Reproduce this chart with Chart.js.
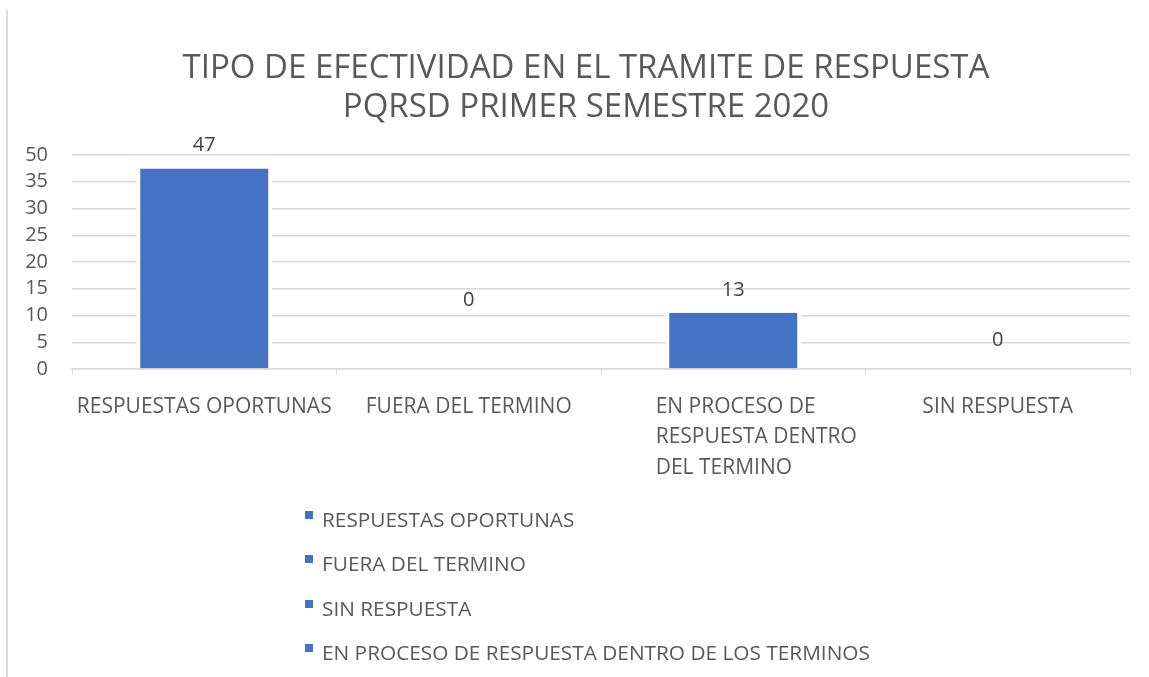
<!DOCTYPE html>
<html><head><meta charset="utf-8">
<script src="https://cdn.jsdelivr.net/npm/chart.js@4.4.1/dist/chart.umd.min.js"></script>
<style>
html,body{margin:0;padding:0;background:#fff;}
#wrap{position:relative;width:1149px;height:677px;overflow:hidden;background:#fff;}
#frame{position:absolute;left:6px;top:10px;width:2px;height:667px;background:#d9d9d9;}
#c{position:absolute;left:0;top:0;}
#title{position:absolute;left:0;top:46px;width:1172px;text-align:center;font-family:'Open Sans',sans-serif;font-size:33px;line-height:39px;color:#595959;}
#legend{position:absolute;left:305px;top:497px;font-family:'Open Sans',sans-serif;font-size:20.8px;color:#595959;}
.li{height:44.3px;display:flex;align-items:center;white-space:nowrap;}
.mk{width:8px;height:8px;margin-right:9px;margin-top:-8px;flex:none;}
</style></head>
<body><div id="wrap"><div id="frame"></div><canvas id="c" width="1149" height="677"></canvas><div id="title"></div><div id="legend"></div></div>
<script>
const titleLines = ['TIPO DE EFECTIVIDAD EN EL TRAMITE DE RESPUESTA', 'PQRSD PRIMER SEMESTRE 2020'];
const categories = [['RESPUESTAS OPORTUNAS'], ['FUERA DEL TERMINO'], ['EN PROCESO DE', 'RESPUESTA DENTRO', 'DEL TERMINO'], ['SIN RESPUESTA']];
const barValues = [37.5, 0, 10.5, 0];
const valueLabels = ['47', '0', '13', '0'];
const seriesNames = ['RESPUESTAS OPORTUNAS', 'FUERA DEL TERMINO', 'SIN RESPUESTA', 'EN PROCESO DE RESPUESTA DENTRO DE LOS TERMINOS'];
const seriesCategory = [0, 1, 3, 2];
const tickLabels = ['0', '5', '10', '15', '20', '25', '30', '35', '50'];

const BLUE = '#4472C4';
const TXT = '#595959';
const FONT = "'Open Sans', sans-serif";

const datasets = seriesNames.map((name, s) => ({
  label: name,
  data: categories.map((c, i) => i === seriesCategory[s] ? barValues[i] : null),
  backgroundColor: BLUE,
  borderColor: '#ffffff',
  borderWidth: {left: 4, right: 4, top: 0, bottom: 0},
  borderSkipped: false,
  categoryPercentage: 1,
  barPercentage: 0.514
}));

const labelPlugin = {
  id: 'labelsAndCats',
  afterDraw(chart, args, opts) {
    const ctx = chart.ctx;
    const xs = chart.scales.x;
    ctx.save();
    ctx.font = '20px ' + FONT;
    ctx.fillStyle = '#404040';
    ctx.textAlign = 'center';
    ctx.textBaseline = 'middle';
    chart.data.datasets.forEach((ds, di) => {
      const meta = chart.getDatasetMeta(di);
      meta.data.forEach((el, i) => {
        if (ds.data[i] === null || ds.data[i] === undefined) return;
        ctx.fillText(valueLabels[i], el.x, el.y - opts.offsets[i]);
      });
    });
    ctx.font = '21px ' + FONT;
    ctx.fillStyle = TXT;
    categories.forEach((lines, i) => {
      const x = xs.getPixelForValue(i);
      const y0 = chart.chartArea.bottom + opts.catTop;
      if (lines.length === 1) {
        ctx.textAlign = 'center';
        ctx.fillText(lines[0], x, y0);
      } else {
        const w = Math.max(...lines.map(l => ctx.measureText(l).width));
        ctx.textAlign = 'left';
        lines.forEach((l, k) => ctx.fillText(l, x - w / 2 + opts.multiShift, y0 + k * opts.lineH));
      }
    });
    ctx.restore();
  }
};

const chart = new Chart(document.getElementById('c'), {
  type: 'bar',
  data: {labels: categories.map(c => c.join(' ')), datasets},
  plugins: [labelPlugin],
  options: {
    responsive: false,
    animation: false,
    devicePixelRatio: 1,
    skipNull: true,
    layout: {padding: {left: 0, right: 19, top: 155, bottom: 302}},
    plugins: {
      legend: {display: false},
      tooltip: {enabled: false},
      title: {display: false},
      labelsAndCats: {offsets: [23, 69, 23, 29], catTop: 38, lineH: 30.5, multiShift: 23}
    },
    scales: {
      x: {
        grid: {display: true, drawOnChartArea: false, drawTicks: true, tickLength: 6, color: '#d9d9d9', offset: true},
        border: {display: true, color: '#d9d9d9', width: 1.5},
        ticks: {display: false},
        afterFit: s => { s.height = 6; }
      },
      y: {
        min: 0, max: 40,
        grid: {color: '#d9d9d9', lineWidth: 1.4, drawTicks: false},
        border: {display: false},
        ticks: {
          stepSize: 5,
          autoSkip: false,
          padding: 24,
          color: TXT,
          font: {family: FONT, size: 20},
          callback: (v, i) => tickLabels[i]
        },
        afterFit: s => { s.width = 72; }
      }
    }
  }
});

const tt = document.getElementById('title');
titleLines.forEach(l => { const d = document.createElement('div'); d.textContent = l; tt.appendChild(d); });

const lg = document.getElementById('legend');
chart.data.datasets.forEach(ds => {
  const d = document.createElement('div');
  d.className = 'li';
  const m = document.createElement('span');
  m.className = 'mk';
  m.style.background = ds.backgroundColor;
  const t = document.createElement('span');
  t.textContent = ds.label;
  d.appendChild(m); d.appendChild(t);
  lg.appendChild(d);
});
</script></body></html>
